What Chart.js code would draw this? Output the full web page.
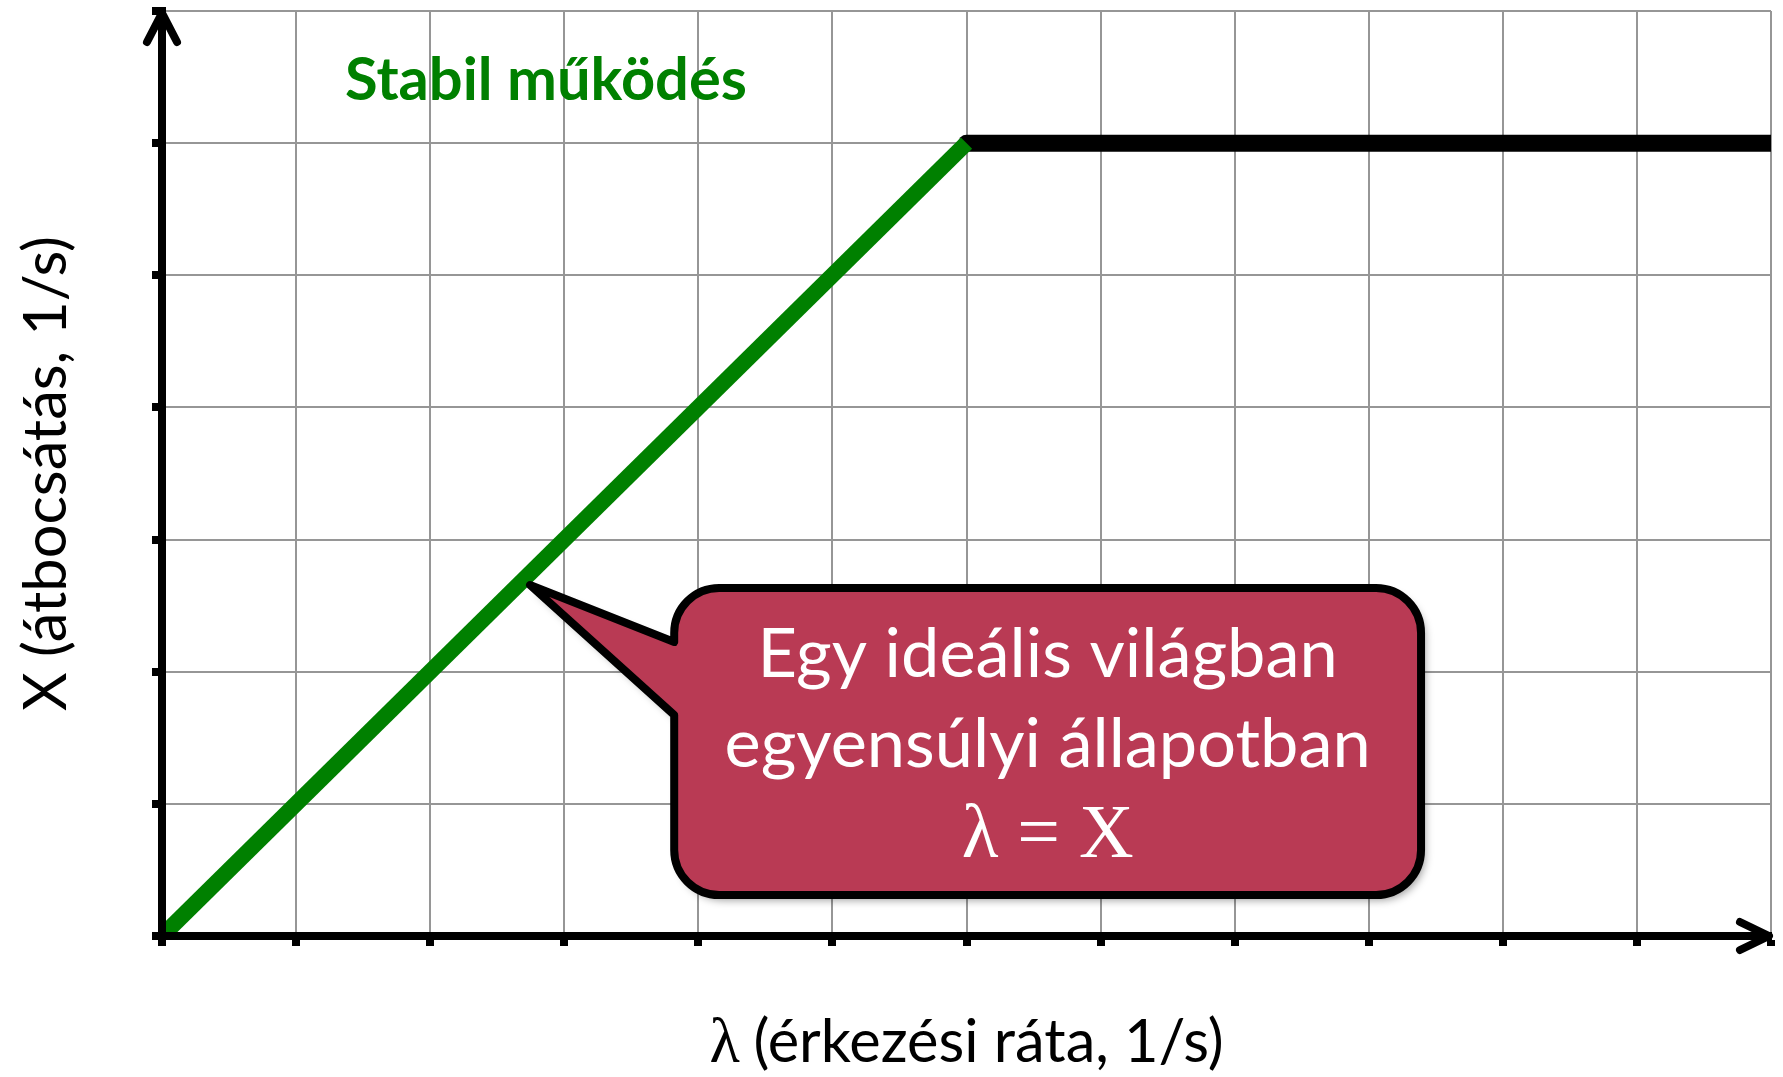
<!DOCTYPE html>
<html>
<head>
    <title>Stabil működés</title>
    <script src="https://cdn.jsdelivr.net/npm/chart.js@4/dist/chart.umd.min.js"></script>
    <style>
        body {
            margin: 0;
            padding: 0;
            background: #fff;
            overflow: hidden;
        }
        .chart-container {
            width: 1783px;
            height: 1077px;
            position: relative;
        }
    </style>
</head>
<body>
    <div class="chart-container">
        <canvas id="throughputChart"></canvas>
    </div>

    <script>
        // axis ranges (no tick labels on this chart, only tick marks)
        const xRange = [0, 12];
        const yRange = [0, 7];

        // stable region: lambda == X
        const lambdaStable = [0, 6];
        const throughputStable = [0, 6];

        // saturated region: X stays at its maximum
        const lambdaSaturated = [6, 12];
        const throughputSaturated = [6, 6];

        const xTitle = ['λ', ' (érkezési ráta, 1/s)'];
        const yTitle = 'X (átbocsátás, 1/s)';
        const regionLabel = 'Stabil működés';
        const calloutLines = ['Egy ideális világban', 'egyensúlyi állapotban', 'λ = X'];

        // callout geometry, in data units
        const callout = {
            left: 3.82, right: 9.39, top: 2.634, bottom: 0.31,
            tipX: 2.745, tipY: 2.656,
            baseTop: 2.225, baseBottom: 1.672
        };

        function toPoints(xs, ys) {
            return xs.map(function(x, i) {
                return { x: x, y: ys[i] };
            });
        }

        function fitSize(ctx, text, weight, family, width) {
            ctx.font = weight + ' 100px ' + family;
            return 100 * width / ctx.measureText(text).width;
        }

        const SANS = 'Lato, "Open Sans", sans-serif';
        const SERIF = '"Liberation Serif", "DejaVu Serif", serif';

        const decorations = {
            id: 'decorations',
            afterDraw: function(chart) {
                const ctx = chart.ctx;
                const area = chart.chartArea;
                const px = function(v) { return chart.scales.x.getPixelForValue(v); };
                const py = function(v) { return chart.scales.y.getPixelForValue(v); };

                ctx.save();

                // arrow heads
                ctx.strokeStyle = '#000';
                ctx.lineWidth = 8;
                ctx.lineCap = 'round';
                ctx.lineJoin = 'round';
                ctx.beginPath();
                ctx.moveTo(area.left - 15, area.top + 31);
                ctx.lineTo(area.left, area.top + 2);
                ctx.lineTo(area.left + 15, area.top + 31);
                ctx.stroke();
                ctx.beginPath();
                ctx.moveTo(area.right - 31, area.bottom - 14);
                ctx.lineTo(area.right - 2, area.bottom);
                ctx.lineTo(area.right - 31, area.bottom + 14);
                ctx.stroke();
                ctx.fillStyle = '#000';
                ctx.fillRect(area.left - 4, area.bottom - 4, 8, 8);

                // region label
                ctx.fillStyle = '#008000';
                let size = fitSize(ctx, regionLabel, 'bold', SANS, 402);
                ctx.font = 'bold ' + size + 'px ' + SANS;
                ctx.textAlign = 'center';
                ctx.textBaseline = 'alphabetic';
                ctx.fillText(regionLabel, 546, 100);

                // axis titles
                ctx.fillStyle = '#000';
                size = fitSize(ctx, yTitle, 'normal', SANS, 475);
                ctx.font = size + 'px ' + SANS;
                ctx.save();
                ctx.translate(66, (area.top + area.bottom) / 2);
                ctx.rotate(-Math.PI / 2);
                ctx.fillText(yTitle, 0, 0);
                ctx.restore();

                ctx.font = size + 'px ' + SERIF;
                const wL = ctx.measureText(xTitle[0]).width;
                ctx.font = size + 'px ' + SANS;
                const wR = ctx.measureText(xTitle[1]).width;
                let x0 = (area.left + area.right) / 2 - (wL + wR) / 2;
                ctx.textAlign = 'left';
                ctx.font = (size * 1.05) + 'px ' + SERIF;
                ctx.fillText(xTitle[0], x0, 1062);
                ctx.font = size + 'px ' + SANS;
                ctx.fillText(xTitle[1], x0 + wL, 1062);

                // callout bubble
                const L = px(callout.left), R = px(callout.right);
                const T = py(callout.top), B = py(callout.bottom);
                const r = 45;
                ctx.beginPath();
                ctx.moveTo(px(callout.tipX), py(callout.tipY));
                ctx.lineTo(L, py(callout.baseTop));
                ctx.lineTo(L, T + r);
                ctx.arcTo(L, T, L + r, T, r);
                ctx.lineTo(R - r, T);
                ctx.arcTo(R, T, R, T + r, r);
                ctx.lineTo(R, B - r);
                ctx.arcTo(R, B, R - r, B, r);
                ctx.lineTo(L + r, B);
                ctx.arcTo(L, B, L, B - r, r);
                ctx.lineTo(L, py(callout.baseBottom));
                ctx.closePath();
                ctx.shadowColor = 'rgba(0,0,0,0.4)';
                ctx.shadowBlur = 8;
                ctx.shadowOffsetX = 4;
                ctx.shadowOffsetY = 5;
                ctx.fillStyle = '#b93a54';
                ctx.fill();
                ctx.shadowColor = 'transparent';
                ctx.lineWidth = 8;
                ctx.lineJoin = 'round';
                ctx.strokeStyle = '#000';
                ctx.stroke();

                const cx = (L + R) / 2;
                ctx.fillStyle = '#fff';
                ctx.textAlign = 'center';
                const s1 = fitSize(ctx, calloutLines[0], 'normal', SANS, 577);
                const s2 = fitSize(ctx, calloutLines[1], 'normal', SANS, 650);
                ctx.font = ((s1 + s2) / 2) + 'px ' + SANS;
                ctx.fillText(calloutLines[0], cx, T + 89);
                ctx.fillText(calloutLines[1], cx, T + 179);
                size = fitSize(ctx, calloutLines[2], 'normal', SERIF, 172);
                ctx.font = size + 'px ' + SERIF;
                ctx.fillText(calloutLines[2], cx, T + 269);

                ctx.restore();
            }
        };

        function axisOptions(range) {
            return {
                type: 'linear',
                min: range[0],
                max: range[1],
                ticks: { stepSize: 1, display: false },
                grid: {
                    color: 'rgb(150,150,150)',
                    lineWidth: 2,
                    tickColor: '#000',
                    tickWidth: 8,
                    tickLength: 10
                },
                border: { color: '#000', width: 8, z: 1 }
            };
        }

        document.addEventListener('DOMContentLoaded', function() {
            const ctx = document.getElementById('throughputChart').getContext('2d');
            new Chart(ctx, {
                type: 'line',
                data: {
                    datasets: [{
                        label: 'Stabil',
                        data: toPoints(lambdaStable, throughputStable),
                        borderColor: '#008000',
                        borderWidth: 16,
                        borderCapStyle: 'butt',
                        pointRadius: 0
                    }, {
                        label: 'Telített',
                        data: toPoints(lambdaSaturated, throughputSaturated),
                        borderColor: '#000',
                        borderWidth: 17,
                        borderCapStyle: 'round',
                        pointRadius: 0,
                        clip: { left: 10, top: 10, right: 0, bottom: 10 }
                    }]
                },
                options: {
                    responsive: true,
                    maintainAspectRatio: false,
                    animation: false,
                    layout: {
                        autoPadding: false,
                        padding: { left: 152, right: 12, top: 11, bottom: 131 }
                    },
                    plugins: {
                        legend: { display: false },
                        tooltip: { enabled: false }
                    },
                    scales: {
                        x: axisOptions(xRange),
                        y: axisOptions(yRange)
                    }
                },
                plugins: [decorations]
            });
        });
    </script>
</body>
</html>
